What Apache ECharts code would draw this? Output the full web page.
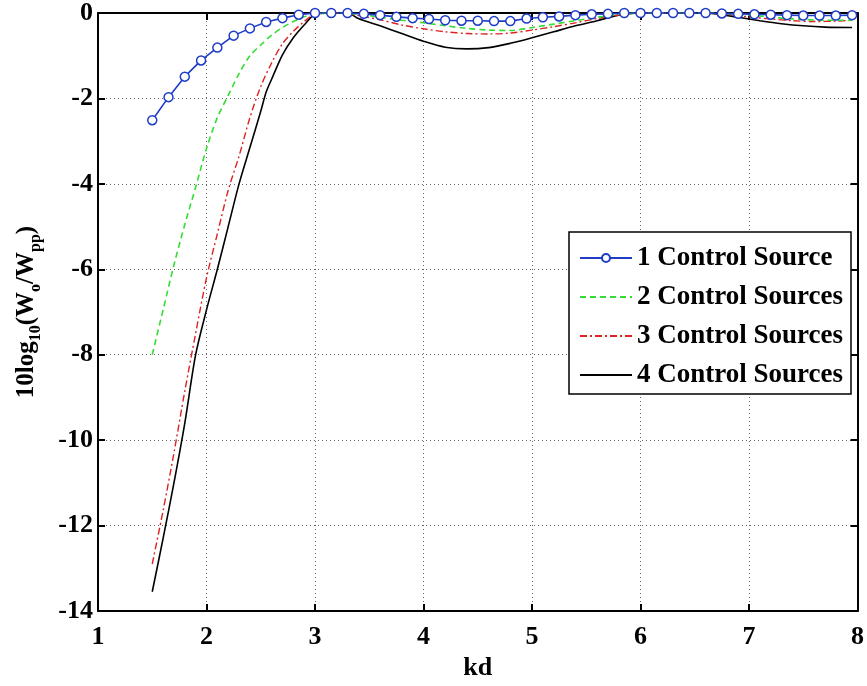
<!DOCTYPE html>
<html>
<head>
<meta charset="utf-8">
<script src="https://cdn.jsdelivr.net/npm/echarts@6/dist/echarts.min.js"></script>
<style>
  html, body { margin: 0; padding: 0; background: #fff; }
  #chart { width: 867px; height: 686px; }
</style>
</head>
<body>
<div id="chart"></div>
<script>
// values
const kd1 = [1.5, 1.65, 1.8, 1.95, 2.1, 2.25, 2.4, 2.55, 2.7, 2.85, 3.0, 3.15, 3.3, 3.45, 3.6,
  3.75, 3.9, 4.05, 4.2, 4.35, 4.5, 4.65, 4.8, 4.95, 5.1, 5.25, 5.4, 5.55, 5.7, 5.85,
  6.0, 6.15, 6.3, 6.45, 6.6, 6.75, 6.9, 7.05, 7.2, 7.35, 7.5, 7.65, 7.8, 7.95];
const one = [-2.51, -1.97, -1.49, -1.11, -0.81, -0.53, -0.36, -0.21, -0.12, -0.04, 0, 0, 0, -0.02, -0.05,
  -0.09, -0.12, -0.14, -0.17, -0.18, -0.18, -0.19, -0.19, -0.13, -0.1, -0.08, -0.05, -0.03, -0.02, 0,
  0, 0, 0, 0, 0, -0.01, -0.02, -0.03, -0.04, -0.05, -0.06, -0.06, -0.06, -0.05];

const kd2 = [1.5, 1.6, 1.7, 1.8, 1.9, 2.0, 2.1, 2.2, 2.3, 2.4, 2.5, 2.6, 2.7, 2.8, 2.9, 3.0,
  3.2, 3.4, 3.6, 3.8, 4.0, 4.2, 4.4, 4.6, 4.8, 5.0, 5.2, 5.4, 5.6, 5.8, 6.0,
  6.4, 6.7, 6.9, 7.1, 7.3, 7.5, 7.7, 7.95];
const two = [-8.0, -6.95, -5.9, -4.95, -4.08, -3.17, -2.45, -1.93, -1.42, -1.0, -0.75, -0.52, -0.34, -0.2, -0.09, -0.02,
  0, -0.03, -0.1, -0.17, -0.23, -0.3, -0.36, -0.4, -0.41, -0.34, -0.26, -0.18, -0.1, -0.03, 0,
  0, 0, -0.03, -0.07, -0.12, -0.15, -0.17, -0.17];

const kd3 = [1.5, 1.6, 1.7, 1.8, 1.9, 2.0, 2.1, 2.2, 2.3, 2.4, 2.5, 2.6, 2.7, 2.8, 2.9, 3.0,
  3.2, 3.4, 3.6, 3.8, 4.0, 4.2, 4.4, 4.6, 4.8, 5.0, 5.2, 5.4, 5.6, 5.8, 6.0,
  6.5, 6.8, 7.0, 7.2, 7.4, 7.6, 7.8, 7.95];
const three = [-12.9, -11.65, -10.3, -8.85, -7.5, -6.2, -5.17, -4.15, -3.35, -2.45, -1.72, -1.17, -0.72, -0.43, -0.2, -0.03,
  0, -0.06, -0.16, -0.28, -0.37, -0.44, -0.48, -0.49, -0.47, -0.4, -0.32, -0.23, -0.13, -0.05, 0,
  0, -0.04, -0.09, -0.14, -0.18, -0.2, -0.19, -0.17];

const kd4 = [1.5, 1.6, 1.7, 1.8, 1.9, 2.0, 2.1, 2.2, 2.3, 2.4, 2.5, 2.55, 2.6, 2.7, 2.8, 2.9, 3.0,
  3.1, 3.3, 3.4, 3.6, 3.8, 4.0, 4.2, 4.4, 4.6, 4.8, 5.0, 5.2, 5.4, 5.6, 5.8, 6.0,
  6.5, 6.7, 6.9, 7.1, 7.3, 7.5, 7.7, 7.95];
const four = [-13.55, -12.3, -11.0, -9.6, -8.0, -6.95, -6.0, -5.0, -4.0, -3.15, -2.3, -1.85, -1.55, -0.98, -0.58, -0.28, -0.03,
  0, 0, -0.13, -0.3, -0.48, -0.66, -0.8, -0.84, -0.81, -0.71, -0.58, -0.44, -0.3, -0.18, -0.05, 0,
  0, -0.02, -0.1, -0.18, -0.25, -0.3, -0.33, -0.34];

const seriesNames = ['1 Control Source', '2 Control Sources', '3 Control Sources', '4 Control Sources'];

const pairs = (xs, ys) => xs.map((x, i) => [x, ys[i]]);

const font = 'Liberation Serif';
const chart = echarts.init(document.getElementById('chart'));

const gridLine = { show: true, lineStyle: { color: '#666', type: [1, 3], width: 1 } };
const boxAxis = {
  axisLine: { show: true, lineStyle: { color: '#000', width: 2 } },
  axisTick: { show: true, inside: true, length: 7, lineStyle: { color: '#000', width: 2 } },
  axisLabel: { show: false },
  splitLine: { show: false }
};

chart.setOption({
  animation: false,
  backgroundColor: '#fff',
  textStyle: { fontFamily: font },
  grid: { left: 98, right: 9, top: 13, bottom: 75 },
  xAxis: [{
    type: 'value', min: 1, max: 8, interval: 1,
    name: 'kd', nameLocation: 'middle', nameGap: 38,
    nameTextStyle: { fontFamily: font, fontWeight: 'bold', fontSize: 26, color: '#000' },
    axisLine: { show: true, onZero: false, lineStyle: { color: '#000', width: 2 } },
    axisTick: { show: true, inside: true, length: 7, lineStyle: { color: '#000', width: 2 } },
    axisLabel: { color: '#000', fontFamily: font, fontWeight: 'bold', fontSize: 26, margin: 13 },
    splitLine: gridLine
  }, Object.assign({ type: 'value', min: 1, max: 8, interval: 1, position: 'top' }, boxAxis)],
  yAxis: [{
    type: 'value', min: -14, max: 0, interval: 2,
    name: '{a|10log}{s|10}{a|(W}{s|o}{a|/W}{s|pp}{a|)}',
    nameLocation: 'middle', nameGap: 54, nameRotate: 90,
    nameTextStyle: {
      rich: {
        a: { fontFamily: font, fontWeight: 'bold', fontSize: 25, color: '#000', lineHeight: 30, verticalAlign: 'top' },
        s: { fontFamily: font, fontWeight: 'bold', fontSize: 16, color: '#000', lineHeight: 16, verticalAlign: 'bottom' }
      }
    },
    axisLine: { show: true, onZero: false, lineStyle: { color: '#000', width: 2 } },
    axisTick: { show: true, inside: true, length: 7, lineStyle: { color: '#000', width: 2 } },
    axisLabel: { color: '#000', fontFamily: font, fontWeight: 'bold', fontSize: 26, margin: 5 },
    splitLine: gridLine
  }, Object.assign({ type: 'value', min: -14, max: 0, interval: 2, position: 'right' }, boxAxis)],
  legend: {
    orient: 'vertical',
    left: 569, top: 232,
    padding: [11, 8, 4, 10],
    backgroundColor: '#fff',
    borderColor: '#000', borderWidth: 1.5,
    itemWidth: 52, itemHeight: 10, itemGap: 9,
    textStyle: { fontFamily: font, fontWeight: 'bold', fontSize: 27, color: '#000', lineHeight: 30 },
    data: [
      { name: seriesNames[0] },
      { name: seriesNames[1], itemStyle: { opacity: 0 } },
      { name: seriesNames[2], itemStyle: { opacity: 0 } },
      { name: seriesNames[3], itemStyle: { opacity: 0 } }
    ]
  },
  series: [
    {
      name: seriesNames[0], type: 'line', data: pairs(kd1, one),
      symbol: 'circle', symbolSize: 9, showSymbol: true,
      itemStyle: { color: '#fff', borderColor: '#1e3cc8', borderWidth: 1.5 },
      lineStyle: { color: '#1e3cc8', width: 1.6 },
      z: 5
    },
    {
      name: seriesNames[1], type: 'line', data: pairs(kd2, two), symbol: 'none', smooth: 0.3,
      itemStyle: { color: '#33dd33' },
      lineStyle: { color: '#33dd33', width: 1.6, type: [6, 4] },
      z: 4
    },
    {
      name: seriesNames[2], type: 'line', data: pairs(kd3, three), symbol: 'none', smooth: 0.3,
      itemStyle: { color: '#dd2222' },
      lineStyle: { color: '#dd2222', width: 1.4, type: [7, 3, 2, 3] },
      z: 3
    },
    {
      name: seriesNames[3], type: 'line', data: pairs(kd4, four), symbol: 'none', smooth: 0.3,
      itemStyle: { color: '#000' },
      lineStyle: { color: '#000', width: 1.6 },
      z: 2
    }
  ]
});
</script>
</body>
</html>
